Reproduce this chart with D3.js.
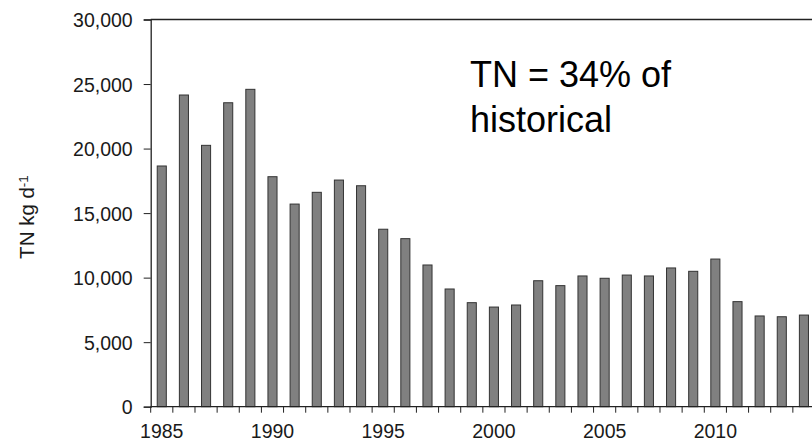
<!DOCTYPE html>
<meta charset="utf-8">
<script src="https://d3js.org/d3.v7.min.js"></script>
<style>
  body { margin: 0; background: #fff; }
  svg { display: block; font-family: "Liberation Sans", Arial, sans-serif; }
  .tick text { fill: #1a1a1a; }
</style>
<body>
<div id="chart"></div>
<script>

// TN load per year, kg per day
var years = d3.range(1985, 2015);
var tnValues = [
  18650, 24150, 20250, 23550, 24590, 17820, 15700, 16610, 17560, 17120,
  13750, 13020, 10980, 9120, 8060, 7720, 7880, 9760, 9380, 10130,
  9950, 10200, 10130, 10750, 10490, 11440, 8140, 7030, 6970, 7100
];
var yTicks = [0, 5000, 10000, 15000, 20000, 25000, 30000];
var xLabelYears = [1985, 1990, 1995, 2000, 2005, 2010];
var noteLines = ["TN = 34% of", "historical"];

var W = 812, H = 446;
var margin = {top: 19.5, left: 150.7, bottom: 39.3};
var plotRight = 815;

var svg = d3.select("#chart").append("svg")
  .attr("width", W)
  .attr("height", H);

var x = d3.scaleBand()
  .domain(years)
  .range([margin.left, plotRight])
  .padding(0);

var y = d3.scaleLinear()
  .domain([0, 30000])
  .range([H - margin.bottom, margin.top]);

var barW = x.bandwidth() * 0.41;

// bars
svg.append("g").selectAll("rect")
  .data(years)
  .enter().append("rect")
  .attr("x", function(d) { return x(d) + (x.bandwidth() - barW) / 2; })
  .attr("y", function(d, i) { return y(tnValues[i]); })
  .attr("width", barW)
  .attr("height", function(d, i) { return y(0) - y(tnValues[i]); })
  .attr("fill", "#808080")
  .attr("stroke", "#333")
  .attr("stroke-width", 1);

// y axis
var yAxis = svg.append("g")
  .attr("transform", "translate(" + margin.left + ",0)")
  .call(d3.axisLeft(y).tickValues(yTicks).tickSize(7).tickPadding(11)
    .tickFormat(d3.format(",")));
yAxis.select(".domain").attr("stroke", "#222").attr("stroke-width", 1.3);
yAxis.selectAll(".tick line").attr("stroke", "#222");
yAxis.selectAll(".tick text").style("font-size", "19.5px").attr("dy", "0.36em");

// top border
svg.append("line")
  .attr("x1", margin.left).attr("x2", plotRight)
  .attr("y1", y(30000)).attr("y2", y(30000))
  .attr("stroke", "#222").attr("stroke-width", 1.3);

// x axis baseline
svg.append("line")
  .attr("x1", margin.left).attr("x2", plotRight)
  .attr("y1", y(0)).attr("y2", y(0))
  .attr("stroke", "#222").attr("stroke-width", 1.3);

// x ticks at category boundaries
svg.append("g").selectAll("line")
  .data(years)
  .enter().append("line")
  .attr("x1", function(d) { return x(d); })
  .attr("x2", function(d) { return x(d); })
  .attr("y1", y(0))
  .attr("y2", y(0) + 6)
  .attr("stroke", "#222");

svg.append("g").selectAll("text")
  .data(xLabelYears)
  .enter().append("text")
  .attr("x", function(d) { return x(d) + x.bandwidth() / 2; })
  .attr("y", y(0) + 31.5)
  .attr("text-anchor", "middle")
  .style("font-size", "19.5px")
  .attr("fill", "#1a1a1a")
  .text(function(d) { return d; });

// y title
var yTitle = svg.append("text")
  .attr("transform", "translate(34,217) rotate(-90)")
  .attr("text-anchor", "middle")
  .style("font-size", "20.5px")
  .attr("fill", "#1a1a1a");
yTitle.append("tspan").text("TN kg d");
yTitle.append("tspan").attr("dy", "-0.45em").style("font-size", "13.5px").text("-1");

// annotation
svg.append("g").selectAll("text")
  .data(noteLines)
  .enter().append("text")
  .attr("x", 470)
  .attr("y", function(d, i) { return 86.5 + i * 45; })
  .style("font-size", "36px")
  .attr("fill", "#000")
  .text(function(d) { return d; });

</script>
</body>
